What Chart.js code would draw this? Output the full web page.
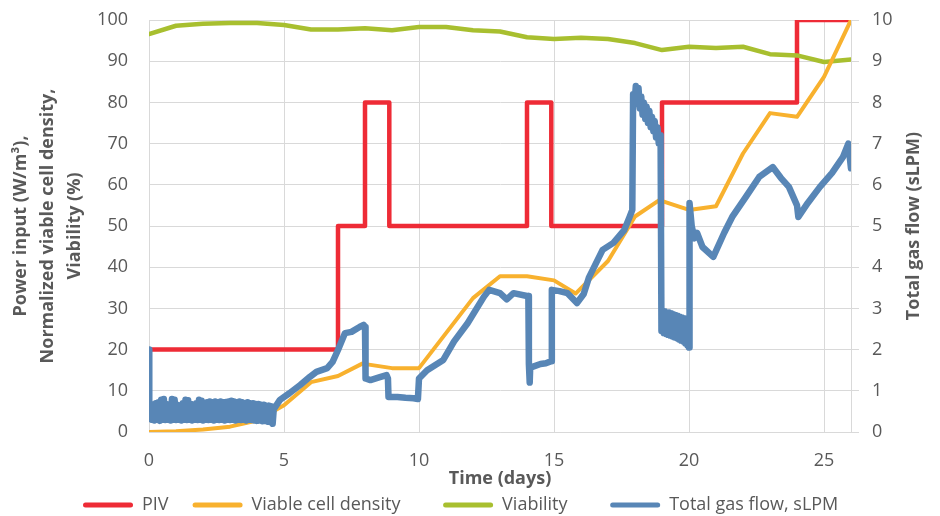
<!DOCTYPE html>
<html>
<head>
<meta charset="utf-8">
<script src="https://cdn.jsdelivr.net/npm/chart.js@4.4.1/dist/chart.umd.min.js"></script>
<style>
  html, body { margin: 0; padding: 0; background: #fff; }
</style>
</head>
<body>
<canvas id="bioChart" width="940" height="516"></canvas>
<script>
// PIV step profile (W/m3)
const pivDays = [0, 7, 7, 8, 8, 8.9, 8.9, 14, 14, 14.9, 14.9, 19, 19, 24, 24, 26];
const pivValues = [20, 20, 50, 50, 80, 80, 50, 50, 80, 80, 50, 50, 80, 80, 100, 100];

// normalized viable cell density (%)
const vcdDays = [0, 1, 2, 3, 4, 5, 6, 7, 7.9, 9, 10, 11, 12, 13, 14, 15, 15.8, 17, 18, 18.9, 20, 21, 22, 23, 24, 25, 26];
const vcdValues = [0, 0.2, 0.6, 1.3, 2.8, 6.5, 12.1, 13.6, 16.6, 15.5, 15.5, 24, 32.5, 37.8, 37.8, 36.8, 33.6, 41.5, 52.3, 56.3, 53.9, 54.8, 67.6, 77.4, 76.5, 86.2, 100];

// viability (%)
const viaDays = [0, 1, 2, 3, 4, 5, 6, 7, 8, 9, 10, 11, 12, 13, 14, 15, 16, 17, 18, 19, 20, 21, 22, 23, 24, 25, 26];
const viaValues = [96.6, 98.6, 99.1, 99.3, 99.3, 98.8, 97.7, 97.7, 98.0, 97.5, 98.3, 98.3, 97.5, 97.2, 95.8, 95.4, 95.7, 95.4, 94.4, 92.7, 93.5, 93.2, 93.5, 91.7, 91.4, 89.8, 90.4];

// total gas flow (sLPM)
const gasDays = [
  0, 0.01, 0.05, 0.1, 0.15, 0.2, 0.25, 0.3, 0.35, 0.4, 0.45, 0.5, 0.55, 0.6, 0.65, 0.7, 0.75, 0.8, 0.85, 0.9, 0.95,
  1.0, 1.05, 1.1, 1.15, 1.2, 1.25, 1.3, 1.35, 1.4, 1.45, 1.5, 1.55, 1.6, 1.65, 1.7, 1.75, 1.8, 1.85, 1.9, 1.95,
  2.0, 2.05, 2.1, 2.15, 2.2, 2.25, 2.3, 2.35, 2.4, 2.45, 2.5, 2.55, 2.6, 2.65, 2.7, 2.75, 2.8, 2.85, 2.9, 2.95,
  3.0, 3.05, 3.1, 3.15, 3.2, 3.25, 3.3, 3.35, 3.4, 3.45, 3.5, 3.55, 3.6, 3.65, 3.7, 3.75, 3.8, 3.85, 3.9, 3.95,
  4.0, 4.05, 4.1, 4.15, 4.2, 4.25, 4.3, 4.35, 4.4, 4.45, 4.5, 4.55, 4.58, 4.62,
  4.85, 5.2, 5.6, 5.96, 6.2, 6.6, 6.8, 7.0, 7.26, 7.5, 7.8, 7.95,
  8.0, 8.02, 8.2, 8.55, 8.8, 8.85, 8.87, 9.2, 9.5, 9.8, 9.96, 10.0, 10.3, 10.9, 11.3, 11.8, 12.4, 12.6,
  13.0, 13.25, 13.5, 14.0, 14.05, 14.07, 14.1, 14.12, 14.2, 14.5, 14.7, 14.9, 14.92, 15.2, 15.5, 15.85,
  16.1, 16.3, 16.8, 17.2, 17.6, 17.8, 17.9,
  17.93, 17.98, 18.03, 18.08, 18.13, 18.18, 18.23, 18.28, 18.33, 18.38, 18.43, 18.48, 18.53, 18.58, 18.63,
  18.68, 18.73, 18.78, 18.83, 18.88, 18.93, 18.95,
  18.98, 19.02, 19.06, 19.1, 19.14, 19.18, 19.22, 19.26, 19.3, 19.34, 19.38, 19.42, 19.46, 19.5, 19.54,
  19.58, 19.62, 19.66, 19.7, 19.74, 19.78, 19.82, 19.86, 19.9, 19.94, 19.97,
  20.0, 20.02, 20.1, 20.2, 20.3, 20.5, 20.9, 21.3, 21.6, 22.1, 22.6, 23.1, 23.4, 23.7, 24.0, 24.05,
  24.4, 24.85, 25.3, 25.7, 25.9, 26.0
];
const gasFlow = [
  2.0, 0.4, 0.68, 0.3, 0.66, 0.28, 0.7, 0.3, 0.72, 0.27, 0.78, 0.3, 0.8, 0.29, 0.68, 0.3, 0.66, 0.28, 0.8, 0.3, 0.78,
  0.29, 0.66, 0.3, 0.64, 0.28, 0.7, 0.3, 0.78, 0.29, 0.77, 0.3, 0.68, 0.28, 0.66, 0.3, 0.7, 0.29, 0.78, 0.3, 0.76,
  0.28, 0.7, 0.3, 0.72, 0.29, 0.74, 0.3, 0.72, 0.28, 0.74, 0.3, 0.72, 0.29, 0.74, 0.3, 0.72, 0.28, 0.73, 0.3, 0.74,
  0.29, 0.76, 0.3, 0.74, 0.28, 0.72, 0.3, 0.74, 0.29, 0.72, 0.3, 0.7, 0.28, 0.72, 0.3, 0.7, 0.29, 0.7, 0.28, 0.68,
  0.27, 0.68, 0.28, 0.66, 0.26, 0.66, 0.27, 0.64, 0.25, 0.64, 0.24, 0.62, 0.2, 0.55,
  0.78, 0.94, 1.14, 1.34, 1.46, 1.55, 1.7, 1.99, 2.4, 2.43, 2.55, 2.6,
  2.55, 1.3, 1.26, 1.33, 1.38, 1.3, 0.85, 0.85, 0.83, 0.82, 0.8, 1.3, 1.5, 1.75, 2.2, 2.64, 3.28, 3.45,
  3.37, 3.22, 3.37, 3.3, 3.3, 1.65, 1.2, 1.6, 1.58, 1.65, 1.67, 1.72, 3.45, 3.42, 3.37, 3.13,
  3.35, 3.76, 4.42, 4.59, 4.9, 5.22, 5.39,
  8.2, 7.95, 8.4, 8.0, 8.35, 7.85, 8.15, 7.7, 8.0, 7.6, 7.9, 7.5, 7.8, 7.4, 7.65,
  7.3, 7.55, 7.15, 7.4, 7.0, 7.2, 6.9,
  2.45, 2.95, 2.4, 2.93, 2.38, 2.9, 2.36, 2.9, 2.34, 2.88, 2.32, 2.86, 2.3, 2.84, 2.28,
  2.82, 2.25, 2.8, 2.22, 2.78, 2.2, 2.76, 2.15, 2.74, 2.1, 2.7,
  2.05, 5.56, 5.0, 4.7, 4.83, 4.49, 4.25, 4.83, 5.22, 5.7, 6.19, 6.43, 6.17, 5.95, 5.5, 5.22,
  5.56, 5.95, 6.29, 6.67, 7.0, 6.4
];

const xTicksStep = 5;
const gridColor = '#d9d9d9';
const textColor = '#595959';

function toPoints(xs, ys) {
    return xs.map((x, i) => ({ x: x, y: ys[i] }));
}

Chart.defaults.font.family = "'Open Sans', sans-serif";
Chart.defaults.font.size = 18;
Chart.defaults.color = textColor;

// right axis title reads bottom-to-top in the original, chart.js would rotate it the other way
const rightTitle = {
    id: 'rightTitle',
    afterDraw(chart) {
        const s = chart.scales.y1;
        const ctx = chart.ctx;
        ctx.save();
        ctx.translate(s.right - 26, (chart.chartArea.top + chart.chartArea.bottom) / 2);
        ctx.rotate(-Math.PI / 2);
        ctx.font = "bold 18px 'Open Sans', sans-serif";
        ctx.fillStyle = textColor;
        ctx.textAlign = 'center';
        ctx.textBaseline = 'middle';
        ctx.fillText('Total gas flow (sLPM)', 0, 0);
        ctx.restore();
    }
};

const ctx = document.getElementById('bioChart').getContext('2d');
new Chart(ctx, {
    type: 'line',
    data: {
        datasets: [
            {
                label: 'PIV',
                data: toPoints(pivDays, pivValues),
                borderColor: '#ee2b36',
                backgroundColor: '#ee2b36',
                borderWidth: 4.5,
                yAxisID: 'y',
                order: 4
            },
            {
                label: 'Viable cell density',
                data: toPoints(vcdDays, vcdValues),
                borderColor: '#f8b12e',
                backgroundColor: '#f8b12e',
                borderWidth: 4,
                yAxisID: 'y',
                order: 2
            },
            {
                label: 'Viability',
                data: toPoints(viaDays, viaValues),
                borderColor: '#a8bf2f',
                backgroundColor: '#a8bf2f',
                borderWidth: 4.5,
                yAxisID: 'y',
                order: 3
            },
            {
                label: 'Total gas flow, sLPM',
                data: toPoints(gasDays, gasFlow),
                borderColor: '#5886b6',
                backgroundColor: '#5886b6',
                borderWidth: 6.5,
                yAxisID: 'y1',
                order: 1
            }
        ]
    },
    options: {
        responsive: false,
        animation: false,
        // the y scales add ticks.padding to their top padding, so the gap is made with tickLength instead
        layout: { padding: { top: 20, left: 0, right: 0, bottom: -8 } },
        elements: {
            point: { radius: 0 },
            line: { tension: 0, fill: false, borderJoinStyle: 'round', borderCapStyle: 'round' }
        },
        plugins: {
            tooltip: { enabled: false },
            legend: {
                position: 'bottom',
                labels: {
                    boxWidth: 50,
                    boxHeight: 5,
                    padding: 24,
                    useBorderRadius: true,
                    borderRadius: 2.5,
                    color: textColor,
                    font: { size: 18 },
                    sort: (a, b) => a.datasetIndex - b.datasetIndex,
                    // legend padding is shared with the vertical gap, so widen the item gap with spaces
                    generateLabels: chart => Chart.defaults.plugins.legend.labels.generateLabels(chart)
                        .map((l, i) => Object.assign(l, { lineWidth: 0, text: i < 3 ? l.text + '    ' : l.text }))
                }
            }
        },
        scales: {
            x: {
                type: 'linear',
                position: 'bottom',
                min: 0,
                max: 26,
                ticks: { stepSize: xTicksStep, includeBounds: false, padding: 18, maxRotation: 0 },
                grid: { color: gridColor, drawTicks: false },
                border: { color: gridColor },
                title: {
                    display: true,
                    text: 'Time (days)',
                    font: { size: 18, weight: 'bold' },
                    padding: { top: 0, bottom: -18 }
                },
                afterFit: s => { s.height = 40; }
            },
            y: {
                position: 'left',
                min: 0,
                max: 100,
                ticks: { stepSize: 10, padding: 9 },
                grid: { color: gridColor, drawTicks: true, tickLength: 12, tickColor: 'rgba(0,0,0,0)' },
                border: { color: gridColor },
                title: {
                    display: true,
                    text: ['Power input (W/m³),', 'Normalized viable cell density,', 'Viability (%)'],
                    font: { size: 18, weight: 'bold', lineHeight: 1.5 },
                    padding: { top: 7, bottom: 0 }
                },
                afterFit: s => { s.width = 149; }
            },
            y1: {
                position: 'right',
                min: 0,
                max: 10,
                ticks: { stepSize: 1, padding: 9 },
                grid: {
                    color: gridColor,
                    drawOnChartArea: false,
                    drawTicks: true,
                    tickLength: 12,
                    tickBorderDash: [7, 50]
                },
                border: { color: gridColor },
                afterFit: s => { s.width = 89; }
            }
        }
    },
    plugins: [rightTitle]
});
</script>
</body>
</html>
